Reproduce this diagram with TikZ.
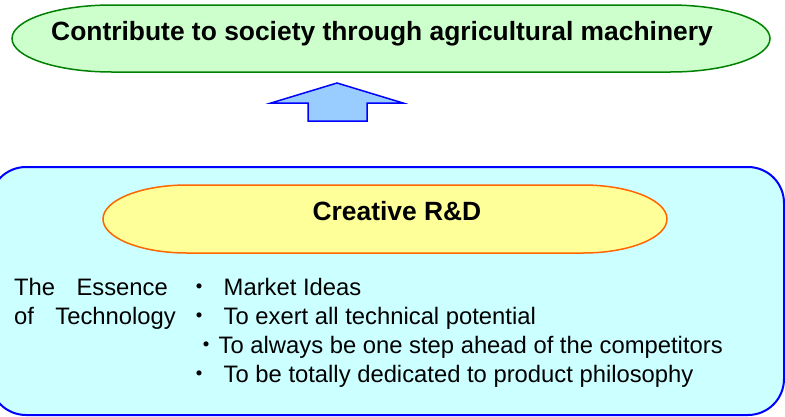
\documentclass[tikz,border=0pt]{standalone}
\usepackage{fontspec}
\setmainfont{Liberation Sans}
\newfontfamily\cjk{Noto Sans CJK JP}
\definecolor{goalfill}{HTML}{CCFFCC}
\definecolor{goalline}{HTML}{008000}
\definecolor{arrowfill}{HTML}{99CCFF}
\definecolor{boxfill}{HTML}{CCFFFF}
\definecolor{rdfill}{HTML}{FFFF99}
\definecolor{rdline}{HTML}{FF6600}
\tikzset{
  headtext/.style={inner sep=0pt, font=\bfseries\fontsize{26.4}{30}\selectfont},
  bodytext/.style={inner sep=0pt, font=\fontsize{23.8}{28}\selectfont},
  dottext/.style={inner sep=0pt, font=\cjk\fontsize{24}{28}\selectfont},
}
\begin{document}
\begin{tikzpicture}[x=1pt,y=-1pt]
\useasboundingbox (0,0) rectangle (785,416);
\clip (0,0) rectangle (785,416);
% goal shape
\path[draw=goalline, fill=goalfill, line width=1.5pt]
  (112,5) -- (670,5) arc[start angle=-90, end angle=90, x radius=100, y radius=33.5]
  -- (112,72) arc[start angle=90, end angle=270, x radius=100, y radius=33.5] -- cycle;
% arrow
\path[draw=blue, fill=arrowfill, line width=1.5pt, line join=miter]
  (337,83) -- (403,103) -- (367,103) -- (367,121) -- (308,121) -- (308,103) -- (271,103) -- cycle;
% big box
\path[draw=blue, fill=boxfill, line width=2pt, rounded corners=36pt]
  (-10,167) rectangle (784,415);
% R&D shape
\path[draw=rdline, fill=rdfill, line width=1.5pt]
  (187,185) -- (583,185) arc[start angle=-90, end angle=90, x radius=84, y radius=34]
  -- (187,253) arc[start angle=90, end angle=270, x radius=84, y radius=34] -- cycle;
% texts
\node[headtext, anchor=base] (goal) at (382,40) {Contribute to society through agricultural machinery};
\node[headtext, anchor=base] (rd) at (397,220) {Creative R\&D};
\node[bodytext, anchor=base west] (the) at (14,295) {The};
\node[bodytext, anchor=base east] (ess) at (168,295) {Essence};
\node[bodytext, anchor=base west] (of) at (14,324) {of};
\node[bodytext, anchor=base east] (tech) at (176,324) {Technology};
\node[dottext, anchor=base] (d1) at (199,295) {・};
\node[dottext, anchor=base] (d2) at (199,324) {・};
\node[dottext, anchor=base] (d3) at (206,353) {・};
\node[dottext, anchor=base] (d4) at (199,382) {・};
\node[bodytext, anchor=base west] (i1) at (223.5,295) {Market Ideas};
\node[bodytext, anchor=base west] (i2) at (223.5,324) {To exert all technical potential};
\node[bodytext, anchor=base west] (i3) at (218.5,353) {To always be one step ahead of the competitors};
\node[bodytext, anchor=base west] (i4) at (223.5,382) {To be totally dedicated to product philosophy};
\end{tikzpicture}
\end{document}
